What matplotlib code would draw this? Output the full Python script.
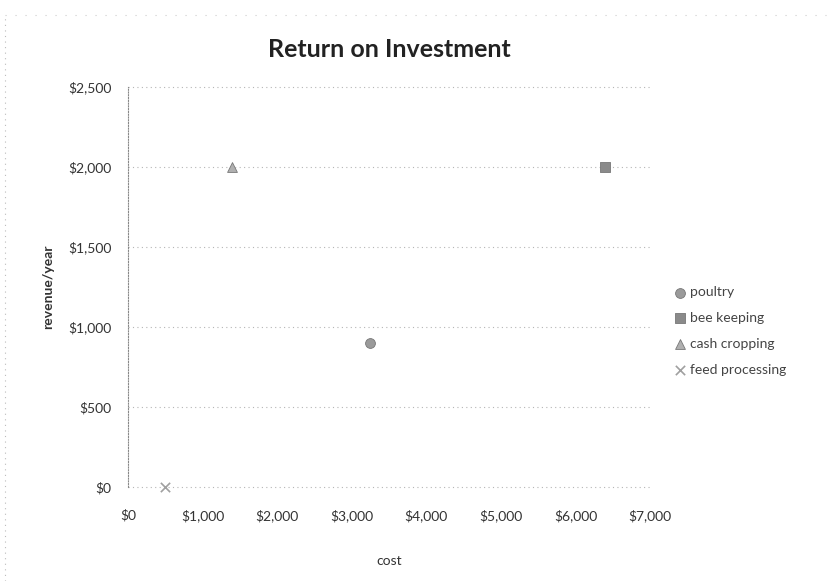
import numpy as np
import matplotlib.pyplot as plt
from matplotlib.lines import Line2D

plt.rcParams['font.family'] = ['Lato', 'DejaVu Sans']

# data
series = ['poultry', 'bee keeping', 'cash cropping', 'feed processing']
cost = [3250, 6400, 1400, 500]
revenue = [900, 2000, 2000, 0]
markers = ['o', 's', '^', 'x']
colors = ['#9a9a9a', '#8a8a8a', '#b0b0b0', '#a0a0a0']

x_ticks = [0, 1000, 2000, 3000, 4000, 5000, 6000, 7000]
x_labels = ['$0', '$1,000', '$2,000', '$3,000', '$4,000', '$5,000', '$6,000', '$7,000']
y_ticks = [0, 500, 1000, 1500, 2000, 2500]
y_labels = ['$0', '$500', '$1,000', '$1,500', '$2,000', '$2,500']

fig = plt.figure(figsize=(8.34, 5.81), dpi=100)
ax = fig.add_axes([0.1535, 0.162, 0.626, 0.688])

for name, cx, ry, m, c in zip(series, cost, revenue, markers, colors):
    if m == 'x':
        ax.scatter(cx, ry, marker=m, s=45, color=c, linewidths=1.2, label=name,
                   zorder=3, clip_on=False)
    else:
        ax.scatter(cx, ry, marker=m, s=50, color=c, edgecolors='#777777', linewidths=0.6,
                   label=name, zorder=3, clip_on=False)

ax.set_xlim(0, 7000)
ax.set_ylim(0, 2500)
ax.set_xticks(x_ticks)
ax.set_xticklabels(x_labels)
ax.set_yticks(y_ticks)
ax.set_yticklabels(y_labels)
ax.tick_params(length=0, labelsize=10, colors='#333333', pad=12)
ax.tick_params(axis='x', pad=16)

ax.grid(axis='y', linestyle=(0, (1, 3)), color='#b5b5b5', linewidth=0.8)
for gl in ax.get_ygridlines():
    gl.set_clip_on(False)
ax.set_axisbelow(True)
for s in ['top', 'right', 'bottom']:
    ax.spines[s].set_visible(False)
ax.spines['left'].set_linestyle((0, (1, 1.5)))
ax.spines['left'].set_color('#888888')

ax.set_title('Return on Investment', fontsize=18, fontweight='bold', color='#222222', pad=22)
ax.set_xlabel('cost', fontsize=10, color='#333333', labelpad=24)
ax.set_ylabel('revenue/year', fontsize=10, fontweight='bold', color='#333333', labelpad=10)

ax.legend(loc='center left', bbox_to_anchor=(1.02, 0.39), frameon=False, fontsize=10,
          handletextpad=0.2, handlelength=1.0, labelspacing=1.0, labelcolor='#444444')

# faint scanned chart border
fig.add_artist(Line2D([0.006, 0.006], [0.0, 0.975], transform=fig.transFigure,
                      color='#bbbbbb', linewidth=0.8, linestyle=(0, (1, 4))))
fig.add_artist(Line2D([0.006, 0.99], [0.975, 0.975], transform=fig.transFigure,
                      color='#cccccc', linewidth=0.8, linestyle=(0, (1, 8))))

fig.savefig('out.png', dpi=100)
